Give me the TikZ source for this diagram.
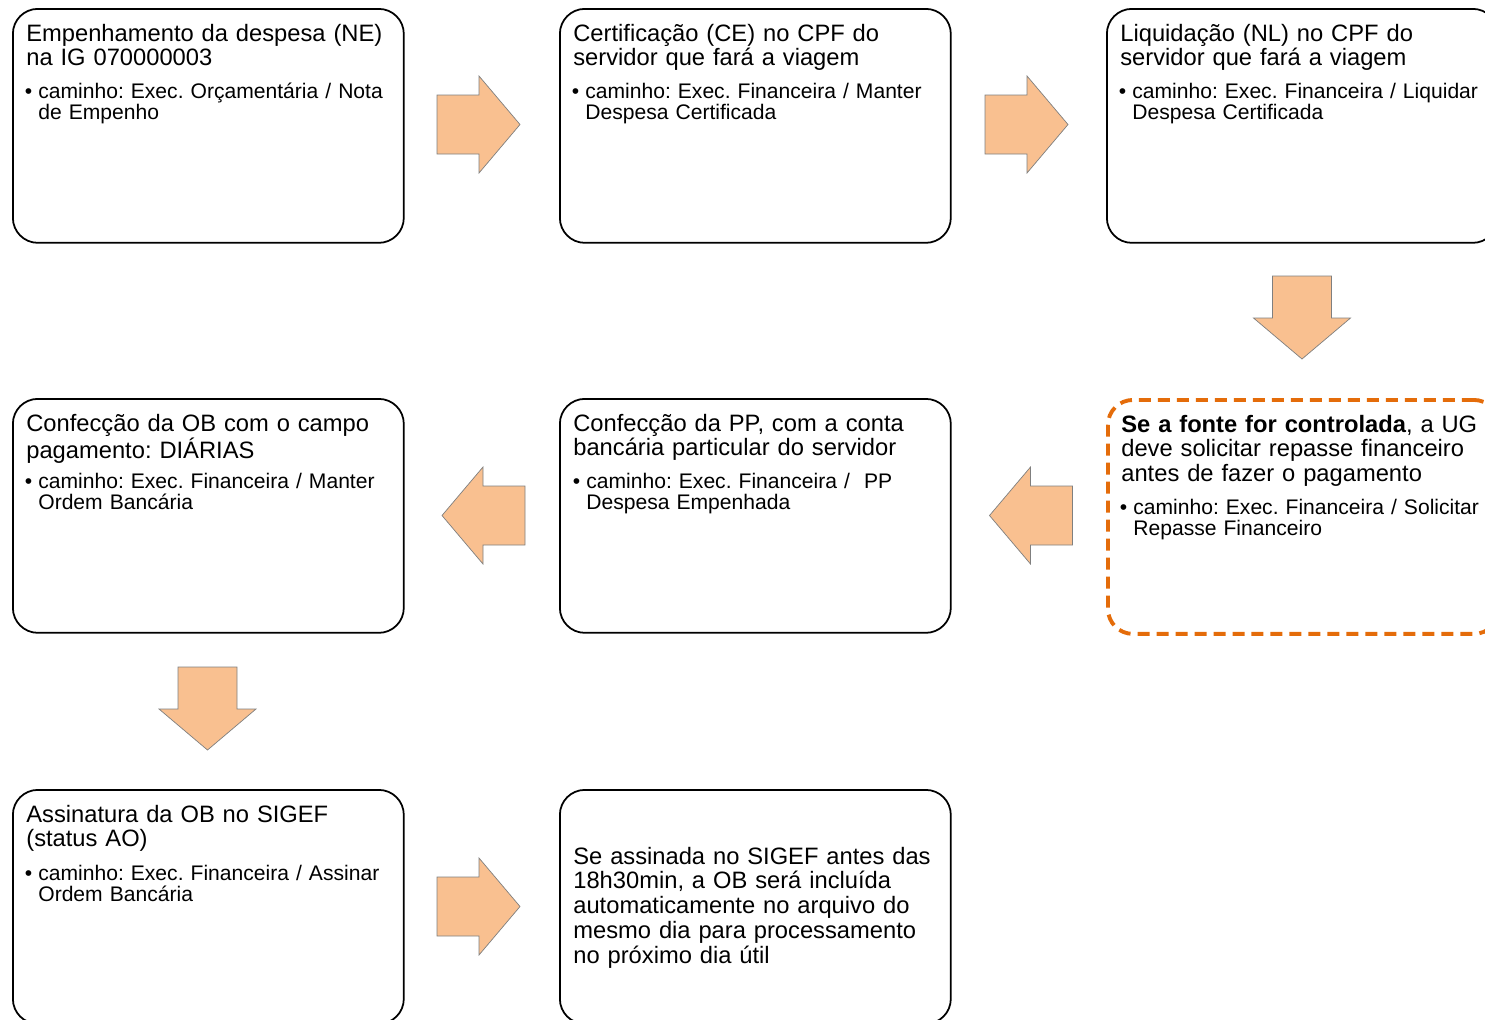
\documentclass[tikz,border=0pt]{standalone}
\usepackage{fontspec}
\setmainfont{Liberation Sans}
\usepackage{tikz}
\usetikzlibrary{calc}
\definecolor{arrowpeach}{HTML}{F9C090}
\definecolor{arrowline}{HTML}{7F7F7F}
\definecolor{fonteorange}{HTML}{E46C0A}
\frenchspacing

\tikzset{
  stepbox/.style={draw=black,line width=1pt,rounded corners=0.5cm,
    minimum width=7.82cm,minimum height=4.68cm,anchor=north west,inner sep=0pt},
  alertbox/.style={stepbox,draw=fonteorange,line width=2.2pt,
    dash pattern=on 0.24cm off 0.14cm},
  titletext/.style={anchor=base west,inner sep=0pt,text width=7.6cm,align=left,
    font=\fontsize{13.5}{14.2}\selectfont},
  pathtext/.style={anchor=base west,inner sep=0pt,text width=7.4cm,align=left,
    font=\fontsize{12}{12.5}\selectfont},
  blockarrow/.style={fill=arrowpeach,draw=arrowline,line width=0.4pt},
  fatarrow/.pic={
    \draw[blockarrow] (-41.5,-29.5) -- (0.5,-29.5) -- (0.5,-48.5) -- (41.5,0)
      -- (0.5,48.5) -- (0.5,29.5) -- (-41.5,29.5) -- cycle;
  }
}

\newcommand{\bul}{\llap{\textbullet\hspace{0.12cm}}}

\begin{document}
\begin{tikzpicture}[x=0.02cm,y=-0.02cm]
  \useasboundingbox (0,0) rectangle (1485,1019);
  \clip (0,0) rectangle (1485,1019);

  % first row
  \node[stepbox] (ne) at (12,8) {};
  \node[titletext] (netitle) at ($(ne.north west)+(14,33)$) {Empenhamento da despesa (NE)\\na IG 070000003};
  \node[pathtext] (nepath) at ($(ne.north west)+(26,90)$) {\bul caminho: Exec. Orçamentária / Nota\\de Empenho};

  \node[stepbox] (ce) at (559,8) {};
  \node[titletext] (cetitle) at ($(ce.north west)+(14,33)$) {Certificação (CE) no CPF do\\servidor que fará a viagem};
  \node[pathtext] (cepath) at ($(ce.north west)+(26,90)$) {\bul caminho: Exec. Financeira / Manter\\Despesa Certificada};

  \node[stepbox] (nl) at (1106,8) {};
  \node[titletext] (nltitle) at ($(nl.north west)+(14,33)$) {Liquidação (NL) no CPF do\\servidor que fará a viagem};
  \node[pathtext] (nlpath) at ($(nl.north west)+(26,90)$) {\bul caminho: Exec. Financeira / Liquidar\\Despesa Certificada};

  % second row
  \node[alertbox] (rf) at (1106,398) {};
  \node[titletext] (rftitle) at ($(rf.north west)+(15,34)$) {\textbf{Se a fonte for controlada}, a UG\\deve solicitar repasse financeiro\\antes de fazer o pagamento};
  \node[pathtext] (rfpath) at ($(rf.north west)+(27,116)$) {\bul caminho: Exec. Financeira / Solicitar\\Repasse Financeiro};

  \node[stepbox] (pp) at (559,398) {};
  \node[titletext] (pptitle) at ($(pp.north west)+(14,33)$) {Confecção da PP, com a conta\\bancária particular do servidor};
  \node[pathtext] (pppath) at ($(pp.north west)+(27,90)$) {\bul caminho: Exec. Financeira /\ \ PP\\Despesa Empenhada};

  \node[stepbox] (ob) at (12,398) {};
  \node[titletext] (obtitle) at ($(ob.north west)+(14,33)$) {Confecção da OB com o campo\\pagamento: DIÁRIAS};
  \node[pathtext] (obpath) at ($(ob.north west)+(26,90)$) {\bul caminho: Exec. Financeira / Manter\\Ordem Bancária};

  % third row
  \node[stepbox] (ao) at (12,789) {};
  \node[titletext] (aotitle) at ($(ao.north west)+(14,33)$) {Assinatura da OB no SIGEF\\(status AO)};
  \node[pathtext] (aopath) at ($(ao.north west)+(26,91)$) {\bul caminho: Exec. Financeira / Assinar\\Ordem Bancária};

  \node[stepbox] (prazo) at (559,789) {};
  \node[titletext] (prazotext) at ($(prazo.north west)+(14,75)$) {Se assinada no SIGEF antes das\\18h30min, a OB será incluída\\automaticamente no arquivo do\\mesmo dia para processamento\\no próximo dia útil};

  % block arrows
  \pic (a1) at (478.5,124.5) {fatarrow};
  \pic (a2) at (1026.5,124.5) {fatarrow};
  \pic[rotate=-90] (a3) at (1302,317.5) {fatarrow};
  \pic[rotate=180] (a4) at (1031,515.5) {fatarrow};
  \pic[rotate=180] (a5) at (483.5,515.5) {fatarrow};
  \pic[rotate=-90] (a6) at (207.5,708.5) {fatarrow};
  \pic (a7) at (478.5,906.5) {fatarrow};
\end{tikzpicture}
\end{document}
